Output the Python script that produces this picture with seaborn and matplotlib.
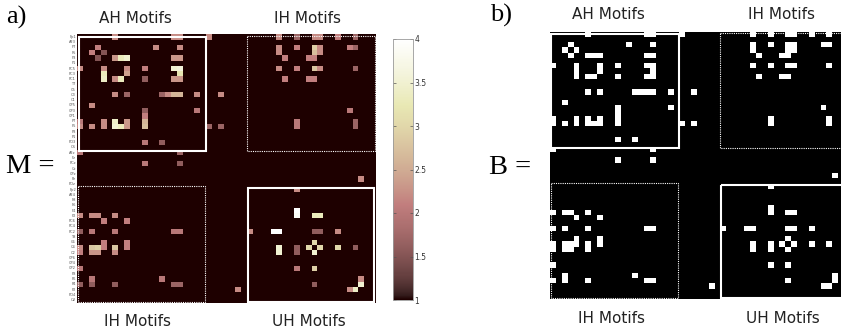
import numpy as np
import matplotlib
matplotlib.use("Agg")
import matplotlib.pyplot as plt
from matplotlib.patches import Rectangle
from matplotlib.colors import ListedColormap
import seaborn as sns

# ---- channel labels (left hemisphere, midline, right hemisphere) ----
left_ch = ["Fp1", "AF3", "F7", "F5", "F3", "F1", "FC5", "FC3", "FC1", "T7", "C5",
           "C3", "C1", "CP5", "CP3", "CP1", "P7", "P5", "P3", "P1", "PO3", "O1"]
mid_ch = ["AFz", "Fz", "FCz", "Cz", "CPz", "Pz", "POz"]
right_ch = ["Fp2", "AF4", "F8", "F6", "F4", "F2", "FC6", "FC4", "FC2", "T8", "C6",
            "C4", "C2", "CP6", "CP4", "CP2", "P8", "P6", "P4", "P2", "PO4", "O2"]
channels = left_ch + mid_ch + right_ch

# ---- non-background entries of the motif matrix M (row, col, value) ----
cell_rows = [0, 0, 0, 0, 2, 2, 2, 3, 3, 4, 4, 4, 4, 4, 4,
             6, 6, 6, 6, 6, 6, 7, 7, 7, 8, 8, 8, 8, 8, 8,
             11, 11, 11, 11, 11, 11, 11, 11, 13, 14, 14, 15,
             16, 17, 17, 16, 17, 16, 17, 17, 16, 17, 16, 17, 17, 17,
             20, 20, 22, 22, 24, 24, 27,
             0, 0, 0, 0, 0, 0, 2, 3, 2, 4, 2, 3, 2, 3, 4, 4, 2, 2,
             6, 6, 6, 6, 6, 8, 8, 8, 14, 16, 17, 16, 17,
             34, 34, 34, 35, 34, 35, 37, 37, 37, 37, 37,
             39, 40, 39, 40, 40, 40, 40, 40, 41, 41, 41, 41,
             44, 46, 47, 47, 47, 46, 47, 47,
             29, 33, 34, 34, 34, 37, 37, 37, 37, 37, 37,
             40, 41, 40, 41, 39, 40, 40, 41, 40, 40,
             44, 44, 47, 46, 47, 48, 48, 48]
cell_cols = [6, 16, 17, 22, 13, 17, 3, 2, 4, 3, 6, 7, 8, 16, 17,
             0, 4, 8, 11, 16, 17, 4, 8, 17, 4, 6, 7, 11, 16, 17,
             6, 8, 14, 15, 16, 17, 20, 24, 2, 20, 11, 11,
             0, 0, 2, 4, 4, 6, 6, 7, 8, 8, 11, 11, 22, 24,
             11, 14, 0, 17, 11, 17, 48,
             34, 37, 40, 41, 44, 47, 34, 34, 37, 35, 40, 40, 41, 41, 39, 40, 46, 47,
             34, 37, 40, 41, 47, 35, 39, 40, 46, 37, 37, 47, 47,
             0, 2, 3, 4, 6, 8, 0, 2, 6, 16, 17,
             4, 4, 8, 8, 0, 2, 3, 6, 0, 2, 3, 6,
             0, 2, 2, 0, 6, 14, 16, 17,
             37, 37, 37, 40, 41, 29, 33, 34, 40, 41, 44,
             34, 34, 37, 37, 40, 39, 41, 40, 44, 47,
             37, 40, 40, 48, 48, 46, 47, 27]
cell_vals = [2.2, 2.2, 2.2, 2.2, 2.2, 2.2, 2.1, 2.1, 1.5, 1.5, 2.3, 3.3, 3.5, 2.3, 2.3,
             2.2, 2.2, 2.2, 2.1, 3.5, 3.6, 3.3, 2.4, 3.2, 3.4, 2.2, 3.3, 1.6, 2.3, 2.3,
             2.2, 1.7, 1.7, 2.2, 2.6, 2.6, 2.2, 2.2, 2.2, 2.0, 1.6, 2.1,
             2.0, 2.2, 2.2, 2.2, 2.2, 3.4, 3.5, 3.3, 2.3, 2.3, 2.6, 2.7, 1.7, 1.7,
             2.0, 1.6, 2.0, 1.7, 2.0, 1.6, 2.2,
             2.2, 1.7, 2.2, 2.2, 2.1, 1.7, 2.2, 2.2, 2.1, 2.1, 2.9, 2.7, 2.2, 2.2, 2.1, 2.1, 2.1, 1.7,
             2.2, 2.1, 2.8, 2.2, 1.7, 2.1, 2.1, 2.1, 2.0, 2.0, 2.0, 1.7, 1.7,
             2.2, 2.2, 2.2, 2.1, 2.2, 2.1, 1.6, 2.0, 2.0, 2.0, 2.0,
             2.1, 2.1, 2.1, 2.1, 2.2, 2.8, 2.9, 2.8, 2.1, 2.3, 2.3, 2.2,
             2.0, 2.0, 1.6, 1.6, 1.6, 2.0, 1.7, 1.7,
             2.2, 4.0, 3.9, 3.3, 3.3, 2.2, 4.0, 4.0, 1.6, 1.6, 2.2,
             3.5, 3.5, 1.6, 1.6, 3.0, 3.0, 3.0, 3.5, 3.0, 1.6,
             2.0, 2.9, 1.6, 2.2, 3.5, 2.2, 3.4, 2.2]

cbar_ticks = [1, 1.5, 2, 2.5, 3, 3.5, 4]
cbar_labels = ["1", "1.5", "2", "2.5", "3", "3.5", "4"]
titles_top = ["AH Motifs", "IH Motifs"]
titles_bottom = ["IH Motifs", "UH Motifs"]

n = len(channels)
M = np.ones((n, n))
M[np.array(cell_rows), np.array(cell_cols)] = np.array(cell_vals)
B = (M > 1).astype(int)

W, H = 841, 335


def rect(x0, y0, x1, y1):
    return [x0 / W, 1 - y1 / H, (x1 - x0) / W, (y1 - y0) / H]


def ftext(x, y, s, **kw):
    fig.text(x / W, 1 - y / H, s, **kw)


fig = plt.figure(figsize=(W / 100, H / 100), dpi=100)

ax_a = fig.add_axes(rect(77.3, 34.3, 376.0, 302.7))
cax = fig.add_axes(rect(392.7, 39.0, 413.3, 300.0))
ax_b = fig.add_axes(rect(550.0, 31.7, 850.0, 299.0))

sns.heatmap(M, ax=ax_a, cmap="pink", vmin=1, vmax=4, cbar_ax=cax,
            xticklabels=False, yticklabels=channels,
            cbar_kws={"ticks": cbar_ticks})
ax_a.tick_params(axis="y", length=0, pad=1, labelsize=2.6, labelcolor="#555555")
for t in ax_a.get_yticklabels():
    t.set_rotation(0)

cax.set_yticklabels(cbar_labels)
cax.tick_params(axis="y", direction="in", length=2, width=0.5, labelsize=5.5,
                labelcolor="#333333", color="#555555", pad=1, left=True, right=True)
cbar = ax_a.collections[0].colorbar
cbar.outline.set_edgecolor("#999999")
cbar.outline.set_linewidth(0.6)

sns.heatmap(B, ax=ax_b, cmap=ListedColormap(["black", "white"]), vmin=0, vmax=1,
            cbar=False, xticklabels=False, yticklabels=False)

for ax in (ax_a, ax_b):
    # solid boxes (AH, UH)
    ax.add_patch(Rectangle((0.25, 0.45), 21.65, 21.75, fill=False, ec="white", lw=1.5,
                           clip_on=False))
    ax.add_patch(Rectangle((29.1, 29.2), 21.6, 21.6, fill=False, ec="white", lw=1.5,
                           clip_on=False))
    # dotted boxes (IH)
    ax.add_patch(Rectangle((28.9, 0.3), 22.0, 21.9, fill=False, ec="white", lw=0.8,
                           ls=(0, (1, 1)), clip_on=False))
    ax.add_patch(Rectangle((0.2, 28.9), 21.6, 22.0, fill=False, ec="white", lw=0.8,
                           ls=(0, (1, 1)), clip_on=False))

serif = ["Liberation Serif", "DejaVu Serif"]
sans = ["DejaVu Sans"]
ftext(6, 17, "a)", fontsize=19, family=serif, va="center", ha="left")
ftext(6, 167, "M =", fontsize=20.5, family=serif, va="center", ha="left")
ftext(490, 15.5, "b)", fontsize=19, family=serif, va="center", ha="left")
ftext(489, 168, "B =", fontsize=20.5, family=serif, va="center", ha="left")

kw = dict(fontsize=11, family=sans, va="center", ha="center", color="#222222")
ftext(135, 18.3, titles_top[0], **kw)
ftext(308, 18.3, titles_top[1], **kw)
ftext(137.5, 321.7, titles_bottom[0], **kw)
ftext(309, 321.7, titles_bottom[1], **kw)

ftext(608, 14.5, titles_top[0], **kw)
ftext(782, 14.5, titles_top[1], **kw)
ftext(612, 318.3, titles_bottom[0], **kw)
ftext(782.5, 318.3, titles_bottom[1], **kw)

fig.savefig("out.png", dpi=100, facecolor="white")
